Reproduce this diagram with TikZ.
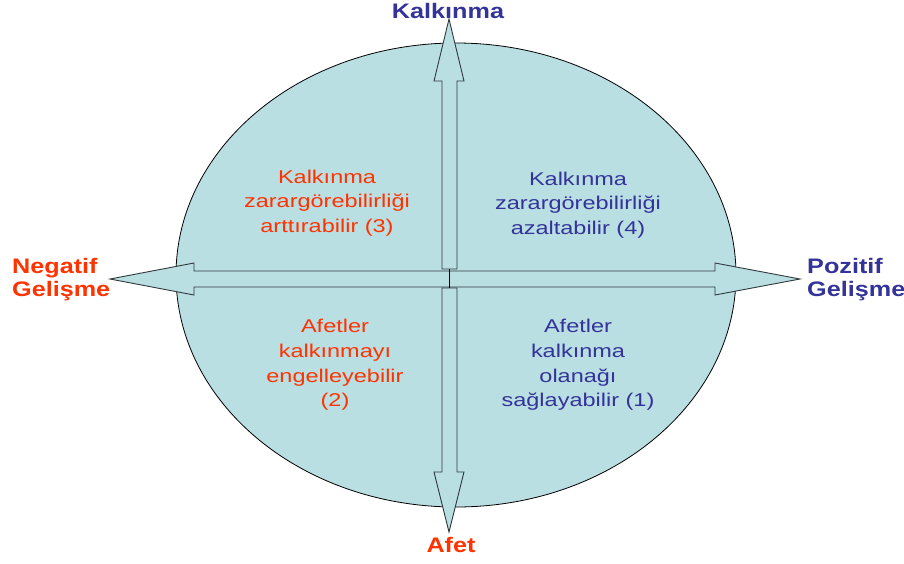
\documentclass[tikz,border=0pt]{standalone}
\usepackage{fontspec}
\setmainfont{Liberation Sans}[FakeStretch=1.2]
\newfontfamily\quadfont{Liberation Sans}[FakeStretch=1.27]
\definecolor{fillc}{HTML}{BADFE3}
\definecolor{redc}{HTML}{FF3300}
\definecolor{bluec}{HTML}{333399}
\definecolor{linec}{HTML}{2F3A3C}
\begin{document}
\begin{tikzpicture}[x=1pt,y=-1pt,
  shapeline/.style={draw=linec,line width=0.9pt,fill=fillc,line join=miter},
  titleR/.style={text=redc,font=\bfseries\fontsize{21}{23}\selectfont,inner sep=0pt},
  titleB/.style={text=bluec,font=\bfseries\fontsize{21}{23}\selectfont,inner sep=0pt},
  quadR/.style={text=redc,font=\quadfont\fontsize{18.5}{24.7}\selectfont,align=center,inner sep=0pt},
  quadB/.style={text=bluec,font=\quadfont\fontsize{18.5}{24.7}\selectfont,align=center,inner sep=0pt}]
\useasboundingbox (0,0) rectangle (904,563);
\draw[draw=black,line width=0.8pt,fill=fillc] (456,275) ellipse [x radius=280, y radius=232];
\draw[shapeline] (110,279) -- (194,263) -- (194,271) -- (715,271) -- (715,263) -- (800,279)
  -- (715,295) -- (715,287) -- (194,287) -- (194,295) -- cycle;
\draw[shapeline] (442,269) -- (442,81) -- (434,81) -- (449,19) -- (464,81) -- (457,81) -- (457,269) -- cycle;
\draw[shapeline] (442,288) -- (442,472) -- (434,472) -- (449,532) -- (464,472) -- (457,472) -- (457,288) -- cycle;
\coordinate (up) at (449,269);
\coordinate (dn) at (449,288);
\draw[black,line width=0.8pt] (up) -- (dn);
\node[titleB,anchor=base] (kal) at (448,18) {Kalkınma};
\node[titleR,anchor=base] (afet) at (451,552) {Afet};
\node[titleR,anchor=base west] (neg) at (12,273) {Negatif};
\node[titleR,anchor=base west] (neg2) at (12,296) {Gelişme};
\node[titleB,anchor=base west] (poz) at (807,273) {Pozitif};
\node[titleB,anchor=base west] (poz2) at (807,296) {Gelişme};
\node[quadR] (q3) at (327,203) {Kalkınma\\zarargörebilirliği\\arttırabilir (3)};
\node[quadB] (q4) at (578,205) {Kalkınma\\zarargörebilirliği\\azaltabilir (4)};
\node[quadR] (q2) at (335,365) {Afetler\\kalkınmayı\\engelleyebilir\\(2)};
\node[quadB] (q1) at (578,365) {Afetler\\kalkınma\\olanağı\\sağlayabilir (1)};
\end{tikzpicture}
\end{document}
